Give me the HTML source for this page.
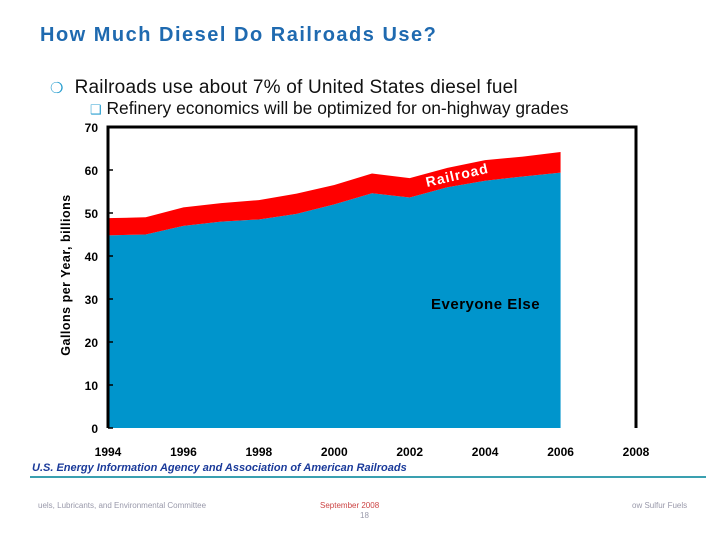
<!DOCTYPE html>
<html><head><meta charset="utf-8"><style>
body{margin:0;width:720px;height:540px;background:#fff;font-family:"Liberation Sans",Arial,sans-serif;position:relative;overflow:hidden}
.t{position:absolute;white-space:nowrap}
</style></head><body>
<div class="t" style="left:40px;top:24px;font-size:20px;letter-spacing:1.5px;font-weight:bold;color:#1f6ab0">How Much Diesel Do Railroads Use?</div>
<div class="t" style="left:50px;top:77px;font-size:19px;letter-spacing:0.2px;color:#111"><span style="color:#2a9fd0;font-size:15px">&#10061;</span>&nbsp; Railroads use about 7% of United States diesel fuel</div>
<div class="t" style="left:90px;top:98px;font-size:17.4px;color:#111"><span style="color:#2a9fd0;font-size:13px">&#10065;</span> Refinery economics will be optimized for on-highway grades</div>
<svg id="chart" width="720" height="540" style="position:absolute;left:0;top:0"></svg>
<div class="t" style="left:32px;top:462px;font-size:11px;font-weight:bold;font-style:italic;color:#1a3a9a">U.S. Energy Information Agency and Association of American Railroads</div>
<div style="position:absolute;left:30px;top:476px;width:676px;height:2px;background:#3aa0b0"></div>
<div class="t" style="left:38px;top:501px;font-size:8px;color:#99a">uels, Lubricants, and Environmental Committee</div>
<div class="t" style="left:320px;top:501px;font-size:8px;color:#c44">September 2008</div>
<div class="t" style="left:360px;top:511px;font-size:8px;color:#99a">18</div>
<div class="t" style="left:632px;top:501px;font-size:8px;color:#99a">ow Sulfur Fuels</div>
<script>
const years=[1994,1995,1996,1997,1998,1999,2000,2001,2002,2003,2004,2005,2006];
const everyoneElse=[44.8,45,47,48,48.5,49.8,52,54.6,53.6,56,57.5,58.5,59.4];
const railroad=[4,4,4.3,4.3,4.5,4.7,4.5,4.6,4.5,4.5,4.8,4.6,4.8];
const yTicks=[0,10,20,30,40,50,60,70];
const xTicks=[1994,1996,1998,2000,2002,2004,2006,2008];
const NS="http://www.w3.org/2000/svg",svg=document.getElementById('chart');
const X0=108,X1=636,Y0=428,Y1=127;
const xs=v=>X0+(v-1994)/(2008-1994)*(X1-X0);
const ys=v=>Y0-v/70*(Y0-Y1);
function mk(t,a){const e=document.createElementNS(NS,t);for(const k in a)e.setAttribute(k,a[k]);svg.appendChild(e);return e;}
const tot=everyoneElse.map((v,i)=>v+railroad[i]);
let pb=years.map((y,i)=>xs(y)+','+ys(everyoneElse[i])).join(' ');
let e=mk('polygon',{points:xs(1994)+','+ys(0)+' '+pb+' '+xs(2006)+','+ys(0),fill:'#0095cc'});


let pr=years.map((y,i)=>xs(y)+','+ys(tot[i])).join(' ')+' '+years.map((y,i)=>xs(y)+','+ys(everyoneElse[i])).reverse().join(' ');
e=mk('polygon',{points:pr,fill:'#ff0000'});


e=mk('path',{d:`M${X0},${Y0}V${Y1}H${X1}V${Y0}`,fill:'none',stroke:'#000','stroke-width':3});


yTicks.forEach(v=>{
 const l=mk('line',{x1:X0,x2:X0+5,y1:ys(v),y2:ys(v),stroke:'#000','stroke-width':1.5});
 
 
 const t=mk('text',{x:98,y:ys(v)+5,'text-anchor':'end','font-size':12,'font-weight':'bold','font-family':'Liberation Sans'});t.textContent=v;
 
 
});
xTicks.forEach(v=>{
 const t=mk('text',{x:xs(v),y:456,'text-anchor':'middle','font-size':12,'font-weight':'bold','font-family':'Liberation Sans'});t.textContent=v;
 
 
});
e=mk('text',{x:0,y:0,transform:'translate(70,275) rotate(-90)','text-anchor':'middle','font-size':12.5,'font-weight':'bold','font-family':'Liberation Sans','letter-spacing':'0.5'});e.textContent='Gallons per Year, billions';


e=mk('text',{x:0,y:0,transform:'translate(427,187) rotate(-13)','font-size':14,'font-weight':'bold',fill:'#fff','font-family':'Liberation Sans','letter-spacing':'1'});e.textContent='Railroad';


e=mk('text',{x:431,y:309,'font-size':15,'font-weight':'bold','font-family':'Liberation Sans','letter-spacing':'0.5'});e.textContent='Everyone Else';


</script>
</body></html>
